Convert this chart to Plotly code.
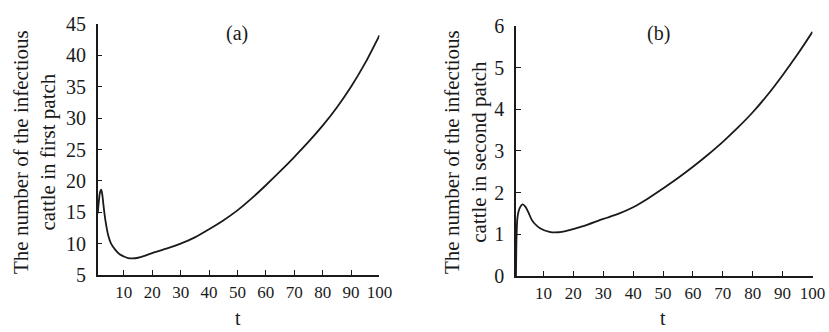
import plotly.graph_objects as go

# Panel (a): infectious cattle in first patch
t_a = [0.8, 1.2, 1.6, 2.0, 2.4, 2.9, 3.5, 4.5, 5.5, 7, 8.5, 10, 11.5, 13, 15, 17, 20,
       25, 30, 35, 40, 45, 50, 55, 60, 65, 70, 75, 80, 85, 90, 95, 100]
i_a = [14.8, 16.8, 18.2, 18.6, 17.8, 15.8, 13.7, 11.3, 10.0, 9.0, 8.3, 7.95, 7.7, 7.65,
       7.75, 8.0, 8.5, 9.2, 10.0, 11.0, 12.3, 13.7, 15.3, 17.2, 19.3, 21.5, 23.8, 26.2,
       28.8, 31.7, 35.0, 38.8, 43.2]

# Panel (b): infectious cattle in second patch
t_b = [0.8, 0.9, 1.0, 1.3, 2.0, 3.0, 4.0, 5.0, 6.0, 7.0, 9.0, 12, 15, 18, 23, 30, 35,
       40, 45, 50, 55, 60, 65, 70, 75, 80, 85, 90, 95, 100]
i_b = [0.0, 0.6, 0.95, 1.4, 1.62, 1.72, 1.66, 1.52, 1.36, 1.26, 1.14, 1.06, 1.05, 1.09,
       1.19, 1.37, 1.49, 1.65, 1.86, 2.1, 2.35, 2.62, 2.91, 3.22, 3.56, 3.93, 4.35, 4.82,
       5.32, 5.86]

x_ticks = [10, 20, 30, 40, 50, 60, 70, 80, 90, 100]
y_ticks_a = [5, 10, 15, 20, 25, 30, 35, 40, 45]
y_ticks_b = [0, 1, 2, 3, 4, 5, 6]

FONT = "Liberation Serif, Times New Roman, serif"
INK = "#1a1a1a"
W, H = 829, 332

fig = go.Figure()
fig.add_trace(go.Scatter(x=t_a, y=i_a, mode="lines", xaxis="x", yaxis="y",
                         line=dict(color=INK, width=1.8, shape="spline", smoothing=0.8),
                         showlegend=False))
fig.add_trace(go.Scatter(x=t_b, y=i_b, mode="lines", xaxis="x2", yaxis="y2",
                         line=dict(color=INK, width=1.8, shape="spline", smoothing=0.8),
                         showlegend=False))

xcommon = dict(range=[0.8, 100], tickvals=x_ticks, ticks="inside", ticklen=5,
               tickcolor=INK, showline=True, linecolor=INK, linewidth=1.5,
               showgrid=False, zeroline=False, automargin=False,
               tickfont=dict(family=FONT, size=17, color=INK), ticklabelstandoff=1)
ycommon = dict(ticks="inside", ticklen=5, tickcolor=INK, showline=True, linecolor=INK,
               linewidth=1.5, showgrid=False, zeroline=False, automargin=False,
               tickfont=dict(family=FONT, size=20, color=INK), ticklabelstandoff=6)


def px(x):
    return x / W


def py(y):
    return 1 - y / H


def label(text, x, y, size=20, angle=0):
    return dict(text=text, x=px(x), y=py(y), xref="paper", yref="paper", showarrow=False,
                xanchor="center", yanchor="middle", textangle=angle,
                font=dict(family=FONT, size=size, color=INK))


fig.update_layout(
    width=W, height=H,
    margin=dict(l=0, r=0, t=0, b=0, autoexpand=False),
    paper_bgcolor="white", plot_bgcolor="white",
    xaxis=dict(domain=[0.1179, 0.4577], anchor="y", **xcommon),
    yaxis=dict(domain=[0.1717, 0.9277], anchor="x", range=[5, 45], tickvals=y_ticks_a, **ycommon),
    xaxis2=dict(domain=[0.6224, 0.9801], anchor="y2", **xcommon),
    yaxis2=dict(domain=[0.1687, 0.9217], anchor="x2", range=[0, 6], tickvals=y_ticks_b, **ycommon),
    annotations=[
        label("(a)", 237, 34),
        label("(b)", 658, 34),
        label("t", 238, 318),
        label("t", 663, 318),
        label("The number of the infectious<br>cattle in first patch", 35, 152, 21, -90),
        label("The number of the infectious<br>cattle in second patch", 466, 152, 21, -90),
    ],
)

fig.write_html("out.html", config={"displayModeBar": False},
               post_script="document.body.style.margin='0';document.body.style.overflow='hidden';")
